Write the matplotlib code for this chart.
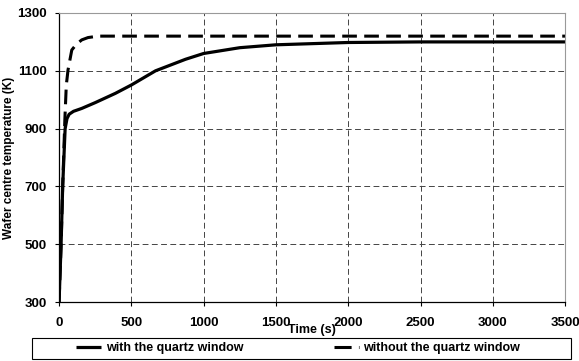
import matplotlib.pyplot as plt
from matplotlib.patches import Rectangle
from matplotlib.lines import Line2D
import numpy as np

plt.rcParams['font.family'] = ['Liberation Sans', 'DejaVu Sans']
plt.rcParams['font.weight'] = 'bold'

# with the quartz window
t_with = [0, 14, 25, 42, 55, 70, 100, 157, 250, 389, 500, 667, 875, 1000, 1250, 1500, 2000, 2500, 3500]
T_with = [300, 500, 700, 900, 935, 950, 960, 970, 990, 1022, 1051, 1100, 1140, 1160, 1180, 1190, 1198, 1200, 1200]

# without the quartz window
t_without = [0, 14, 25, 40, 50, 62, 88, 120, 157, 200, 270, 3500]
T_without = [300, 500, 700, 930, 1050, 1103, 1172, 1192, 1207, 1215, 1220, 1220]

labels = ['with the quartz window', 'without the quartz window']
xticks = [0, 500, 1000, 1500, 2000, 2500, 3000, 3500]
yticks = [300, 500, 700, 900, 1100, 1300]

fig = plt.figure(figsize=(5.79, 3.61), dpi=100)
ax = fig.add_axes([0.102, 0.163, 0.874, 0.801])

ax.plot(t_with, T_with, color='black', lw=2.3, solid_capstyle='butt')
ax.plot(t_without, T_without, color='black', lw=2.2, dashes=(4.8, 2.4))

ax.set_xlim(0, 3500)
ax.set_ylim(300, 1300)
ax.set_xticks(xticks)
ax.set_yticks(yticks)
ax.tick_params(labelsize=9.5, direction='out', length=3, width=0.8)
ax.tick_params(axis='x', pad=8)
ax.tick_params(axis='y', pad=6)
for lab in ax.get_xticklabels() + ax.get_yticklabels():
    lab.set_fontweight('bold')

ax.grid(True, color='#444444', linestyle=(0, (6, 3.5)), linewidth=0.7)
for s in ['top', 'right']:
    ax.spines[s].set_color('#999999')
    ax.spines[s].set_linewidth(0.8)
for s in ['left', 'bottom']:
    ax.spines[s].set_linewidth(0.9)

ax.set_xlabel('Time (s)', fontsize=9, fontweight='bold', labelpad=-4)
ax.set_ylabel('Wafer centre temperature (K)', fontsize=8.5, fontweight='bold')
ax.yaxis.set_label_coords(-0.087, 0.5)

# legend frame spanning the width below the plot
fig.patches.append(Rectangle((32/579, 2/361), 539/579, 21/361, transform=fig.transFigure,
                             fill=False, edgecolor='black', linewidth=0.8))
handles = [Line2D([], [], color='black', lw=2.3, solid_capstyle='butt'),
           Line2D([], [], color='black', lw=2.2, dashes=(5.6, 2.4))]
leg = fig.legend(handles, labels, loc='center left', bbox_to_anchor=(76/579, 12.5/361),
                 ncol=2, frameon=False, borderaxespad=0, borderpad=0,
                 handlelength=2.0, handletextpad=0.4, columnspacing=7.2,
                 prop={'weight': 'bold', 'size': 9})

fig.savefig('out.png', dpi=100)
